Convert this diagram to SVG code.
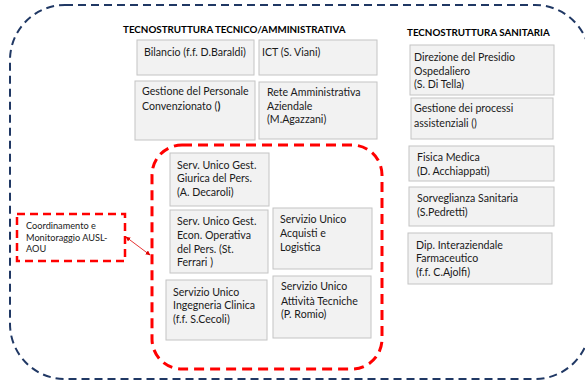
<svg xmlns="http://www.w3.org/2000/svg" width="585" height="381" viewBox="0 0 585 381">
<defs>
<style>
.box{fill:#F2F2F2;stroke:#C4C4C4;stroke-width:1}
.t{font-family:Lato,"Liberation Sans",sans-serif;font-size:10.6px;fill:#1a1a1a}
.h{font-family:Lato,"Liberation Sans",sans-serif;font-size:9.8px;font-weight:bold;fill:#000}
.s{font-family:Lato,"Liberation Sans",sans-serif;font-size:9.2px;fill:#1a1a1a}
</style>
<marker id="ah" viewBox="0 0 10 10" refX="9" refY="5" markerWidth="6" markerHeight="6" orient="auto-start-reverse"><path d="M0,0 L10,5 L0,10 z" fill="#E00000"/></marker>
</defs>
<rect width="585" height="381" fill="#fff"/>
<g id="frame">
<rect x="10" y="5" width="580" height="374" rx="55" fill="none" stroke="#203864" stroke-width="2" stroke-dasharray="8,5"/>
<rect x="152" y="145" width="230" height="224" rx="30" fill="none" stroke="#FF0000" stroke-width="3" stroke-dasharray="10,6"/>
</g>
<text class="h" x="123" y="33">TECNOSTRUTTURA TECNICO/AMMINISTRATIVA</text>
<text class="h" x="407" y="36">TECNOSTRUTTURA SANITARIA</text>
<g id="bilancio"><rect class="box" x="137" y="40" width="117" height="35"/><text class="t" x="144" y="56">Bilancio  (f.f. D.Baraldi)</text></g>
<g id="ict"><rect class="box" x="259" y="40" width="118" height="35"/><text class="t" x="262" y="56">ICT  (S. Viani)</text></g>
<g id="gestione-personale"><rect class="box" x="135" y="81" width="120" height="59"/><text class="t" x="142" y="95">Gestione del Personale</text><text class="t" x="142" y="110">Convenzionato  (<tspan font-weight="bold">)</tspan></text></g>
<g id="rete"><rect class="box" x="259" y="82" width="118" height="57"/><text class="t" x="267" y="96">Rete Amministrativa</text><text class="t" x="267" y="110">Aziendale</text><text class="t" x="267" y="123">(M.Agazzani)</text></g>
<g id="direzione"><rect class="box" x="410" y="45" width="144" height="50"/><text class="t" x="414" y="61">Direzione del Presidio</text><text class="t" x="414" y="75">Ospedaliero</text><text class="t" x="414" y="88">(S. Di Tella)</text></g>
<g id="processi"><rect class="box" x="411" y="98" width="142" height="41"/><text class="t" x="414" y="112">Gestione dei processi</text><text class="t" x="414" y="127">assistenziali ()</text></g>
<g id="fisica"><rect class="box" x="409" y="146" width="145" height="35"/><text class="t" x="417" y="161">Fisica Medica</text><text class="t" x="417" y="175">(D. Acchiappati)</text></g>
<g id="sorveglianza"><rect class="box" x="409" y="187" width="145" height="39"/><text class="t" x="417" y="202">Sorveglianza Sanitaria</text><text class="t" x="417" y="216">(S.Pedretti)</text></g>
<g id="dip"><rect class="box" x="408" y="233" width="144" height="51"/><text class="t" x="416" y="249">Dip. Interaziendale</text><text class="t" x="416" y="262">Farmaceutico</text><text class="t" x="416" y="276">(f.f. C.Ajolfi)</text></g>
<g id="giurica"><rect class="box" x="170" y="153" width="99" height="53"/><text class="t" x="177" y="169">Serv. Unico Gest.</text><text class="t" x="177" y="182">Giurica del Pers.</text><text class="t" x="177" y="196">(A. Decaroli)</text></g>
<g id="econ"><rect class="box" x="170" y="210" width="98" height="63"/><text class="t" x="177" y="225">Serv. Unico Gest.</text><text class="t" x="177" y="239">Econ. Operativa</text><text class="t" x="177" y="253">del Pers. (St.</text><text class="t" x="177" y="266">Ferrari )</text></g>
<g id="acquisti"><rect class="box" x="273" y="208" width="99" height="61"/><text class="t" x="280" y="223">Servizio Unico</text><text class="t" x="280" y="237">Acquisti e</text><text class="t" x="280" y="251">Logistica</text></g>
<g id="ingegneria"><rect class="box" x="166" y="280" width="101" height="60"/><text class="t" x="173" y="296">Servizio Unico</text><text class="t" x="173" y="309">Ingegneria  Clinica</text><text class="t" x="173" y="323">(f.f. S.Cecoli)</text></g>
<g id="tecniche"><rect class="box" x="273" y="276" width="98" height="62"/><text class="t" x="281" y="290">Servizio Unico</text><text class="t" x="281" y="305">Attività Tecniche</text><text class="t" x="281" y="318">(P. Romio)</text></g>
<g id="coordinamento"><rect x="17" y="214" width="108" height="47" fill="none" stroke="#FF0000" stroke-width="2.5" stroke-dasharray="8,5"/><text class="s" x="26" y="228.5">Coordinamento e</text><text class="s" x="26" y="240.5">Monitoraggio AUSL-</text><text class="s" x="26" y="251.5">AOU</text></g>
<g id="connectors"><line x1="126" y1="237" x2="150" y2="255" stroke="#E00000" stroke-width="0.8" marker-start="url(#ah)" marker-end="url(#ah)"/></g>
</svg>
